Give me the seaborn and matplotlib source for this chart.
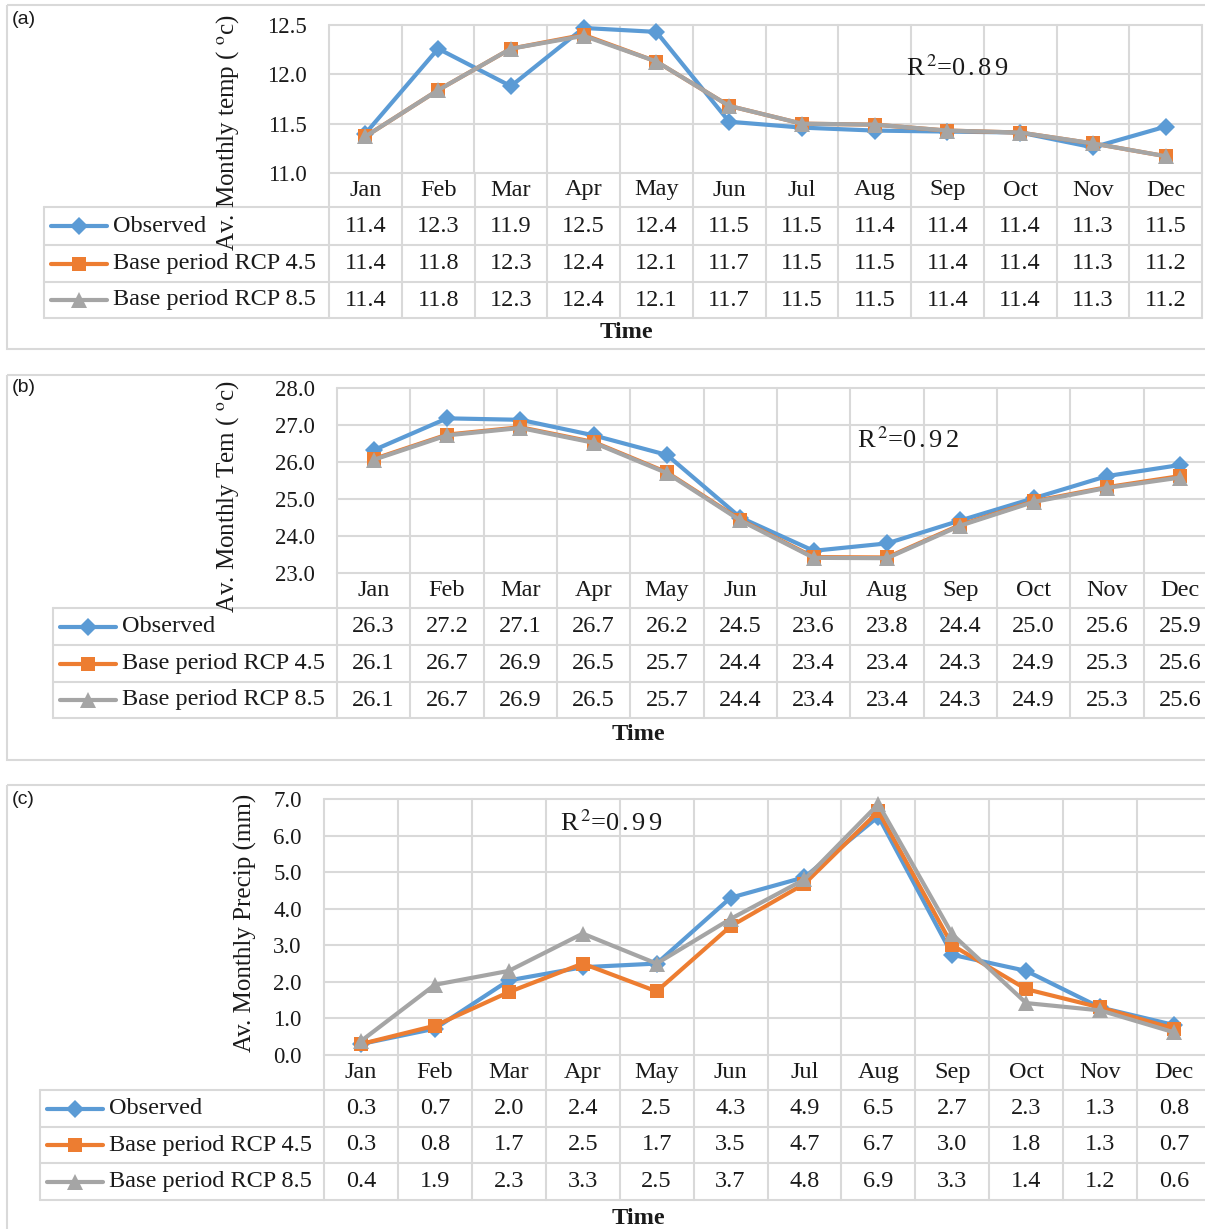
import numpy as np
import pandas as pd
import matplotlib
matplotlib.use("Agg")
import matplotlib.pyplot as plt
from matplotlib.patches import Rectangle
import seaborn as sns

# ---- data ----
months = ["Jan", "Feb", "Mar", "Apr", "May", "Jun",
          "Jul", "Aug", "Sep", "Oct", "Nov", "Dec"]
series_names = ["Observed", "Base period RCP 4.5", "Base period RCP 8.5"]

# (a) average monthly temperature
temp_a_obs = [11.40, 12.26, 11.88, 12.47, 12.43, 11.52, 11.46, 11.43, 11.42, 11.41, 11.26, 11.47]
temp_a_rcp45 = [11.37, 11.84, 12.26, 12.40, 12.13, 11.68, 11.50, 11.49, 11.43, 11.41, 11.30, 11.17]
temp_a_rcp85 = [11.37, 11.84, 12.26, 12.39, 12.13, 11.68, 11.50, 11.49, 11.43, 11.41, 11.30, 11.17]

# (b) average monthly temperature
temp_b_obs = [26.32, 27.18, 27.14, 26.72, 26.19, 24.50, 23.60, 23.80, 24.42, 25.02, 25.62, 25.92]
temp_b_rcp45 = [26.08, 26.74, 26.94, 26.54, 25.72, 24.44, 23.43, 23.42, 24.30, 24.94, 25.32, 25.62]
temp_b_rcp85 = [26.06, 26.72, 26.92, 26.52, 25.70, 24.42, 23.41, 23.40, 24.28, 24.92, 25.30, 25.58]

# (c) average monthly precipitation
prec_c_obs = [0.30, 0.72, 2.04, 2.40, 2.50, 4.30, 4.86, 6.52, 2.74, 2.30, 1.30, 0.82]
prec_c_rcp45 = [0.30, 0.80, 1.72, 2.50, 1.74, 3.52, 4.68, 6.66, 3.00, 1.80, 1.30, 0.72]
prec_c_rcp85 = [0.38, 1.92, 2.30, 3.32, 2.50, 3.72, 4.80, 6.86, 3.30, 1.42, 1.22, 0.62]

colors = {"Observed": "#5B9BD5", "Base period RCP 4.5": "#ED7D31",
          "Base period RCP 8.5": "#A5A5A5"}
markers = {"Observed": "D", "Base period RCP 4.5": "s", "Base period RCP 8.5": "^"}
msizes = {"Observed": 9, "Base period RCP 4.5": 10, "Base period RCP 8.5": 11}

sns.set_theme(style="white")
plt.rcParams["font.family"] = ["Liberation Serif", "DejaVu Serif"]
plt.rcParams["mathtext.fontset"] = "stix"

GRID = "#D9D9D9"
TXT = "#1a1a1a"
FS = 17.5

W, H = 1205, 1229
fig = plt.figure(figsize=(W / 100, H / 100), dpi=100)
bg = fig.add_axes([0, 0, 1, 1])
bg.set_xlim(0, W)
bg.set_ylim(H, 0)
bg.axis("off")


def px_axes(x0, y0, x1, y1):
    return fig.add_axes([x0 / W, 1 - y1 / H, (x1 - x0) / W, (y1 - y0) / H])


def r2_text(val):
    # spaced-out "R2=0.89" like the original chart
    chars = r"$\,$".join(val)
    return r"R$^{\,2}$=" + chars


panels = [
    dict(label="(a)", values=[temp_a_obs, temp_a_rcp45, temp_a_rcp85],
         ylim=(11.0, 12.5), yticks=np.arange(11.0, 12.51, 0.5),
         ylabel=r"Av. Monthly temp ( $^{\mathrm{o}}$c)", r2="0.89",
         frame=(7, 5, 1210, 349), lab_xy=(12, 20), plot=(329, 25, 1202, 173),
         rows=[173, 207, 245, 282, 318], tleft=44, time_xy=(626, 332),
         ylab_xy=(228, 133), r2_xy=(957, 68)),
    dict(label="(b)", values=[temp_b_obs, temp_b_rcp45, temp_b_rcp85],
         ylim=(23.0, 28.0), yticks=np.arange(23.0, 28.01, 1.0),
         ylabel=r"Av. Monthly Tem ( $^{\mathrm{o}}$c)", r2="0.92",
         frame=(7, 375, 1210, 760), lab_xy=(12, 388), plot=(337, 388, 1217, 573),
         rows=[573, 608, 645, 682, 718], tleft=53, time_xy=(638, 734),
         ylab_xy=(228, 497), r2_xy=(908, 440)),
    dict(label="(c)", values=[prec_c_obs, prec_c_rcp45, prec_c_rcp85],
         ylim=(0.0, 7.0), yticks=np.arange(0.0, 7.01, 1.0),
         ylabel="Av. Monthly Precip (mm)", r2="0.99",
         frame=(7, 785, 1210, 1245), lab_xy=(12, 800), plot=(324, 799, 1211, 1055),
         rows=[1055, 1090, 1127, 1163, 1200], tleft=40, time_xy=(638, 1218),
         ylab_xy=(245, 923), r2_xy=(611, 823)),
]

for p in panels:
    # panel frame and label
    fx0, fy0, fx1, fy1 = p["frame"]
    bg.add_patch(Rectangle((fx0, fy0), fx1 - fx0, fy1 - fy0, fill=False,
                           edgecolor=GRID, lw=1.5))
    bg.text(*p["lab_xy"], p["label"], family="Liberation Sans", fontsize=14,
            color=TXT, ha="left", va="center")

    # line chart
    x0, y0, x1, y1 = p["plot"]
    ax = px_axes(x0, y0, x1, y1)
    ax.set_facecolor("none")
    df = pd.DataFrame({
        "month": months * 3,
        "value": sum(p["values"], []),
        "series": np.repeat(series_names, len(months)),
    })
    for name in series_names:
        sub = df[df["series"] == name]
        sns.lineplot(data=sub, x="month", y="value", color=colors[name],
                     marker=markers[name], markersize=msizes[name],
                     markeredgewidth=0, linewidth=3, sort=False,
                     clip_on=False, ax=ax, zorder=3)
    ax.set_xlim(-0.5, len(months) - 0.5)
    ax.set_ylim(*p["ylim"])
    ax.set_xticks([])
    ax.set_yticks(p["yticks"])
    ax.set_yticklabels([f"{t:.1f}" for t in p["yticks"]], fontsize=16.5, color=TXT)
    ax.tick_params(which="both", length=0)
    ax.tick_params(axis="y", pad=16)
    ax.grid(False)
    for t in p["yticks"]:
        ax.axhline(t, color=GRID, lw=1.5, clip_on=False, zorder=1)
    for k in np.arange(-0.5, len(months)):
        ax.axvline(k, color=GRID, lw=1.5, clip_on=False, zorder=1)
    for s in ax.spines.values():
        s.set_visible(False)
    ax.set_xlabel("")
    ax.set_ylabel("")
    ax.text(*ax.transAxes.inverted().transform(
        bg.transData.transform(p["r2_xy"])), r2_text(p["r2"]),
        transform=ax.transAxes, fontsize=19, color=TXT, ha="center", va="center")

    # data table under the chart
    colw = (x1 - x0) / len(months)
    rows = p["rows"]
    tl = p["tleft"]
    for k in range(len(months) + 1):
        bg.plot([x0 + k * colw] * 2, [rows[0], rows[-1]], color=GRID, lw=1.5)
    for r in rows[1:]:
        bg.plot([tl, x1], [r, r], color=GRID, lw=1.5)
    bg.plot([tl, tl], [rows[1], rows[-1]], color=GRID, lw=1.5)
    for i, m in enumerate(months):
        cx = x0 + (i + 0.5) * colw
        bg.text(cx, (rows[0] + rows[1]) / 2, m, fontsize=FS, color=TXT,
                ha="center", va="center")
    for j, name in enumerate(series_names):
        cy = (rows[j + 1] + rows[j + 2]) / 2
        bg.plot([tl + 7, tl + 35, tl + 63], [cy] * 3, color=colors[name], lw=3,
                marker=markers[name], markersize=msizes[name],
                markeredgewidth=0, markevery=[1])
        bg.text(tl + 69, cy, name, fontsize=FS, color=TXT, ha="left", va="center")
        for i, v in enumerate(p["values"][j]):
            cx = x0 + (i + 0.5) * colw
            bg.text(cx, cy, f"{v:.1f}", fontsize=FS, color=TXT,
                    ha="center", va="center")
    bg.text(*p["time_xy"], "Time", fontsize=FS, fontweight="bold", color=TXT,
            ha="center", va="center")
    bg.text(*p["ylab_xy"], p["ylabel"], fontsize=18, color=TXT, rotation=90,
            ha="center", va="center", zorder=5)

fig.savefig("out.png", dpi=100)
